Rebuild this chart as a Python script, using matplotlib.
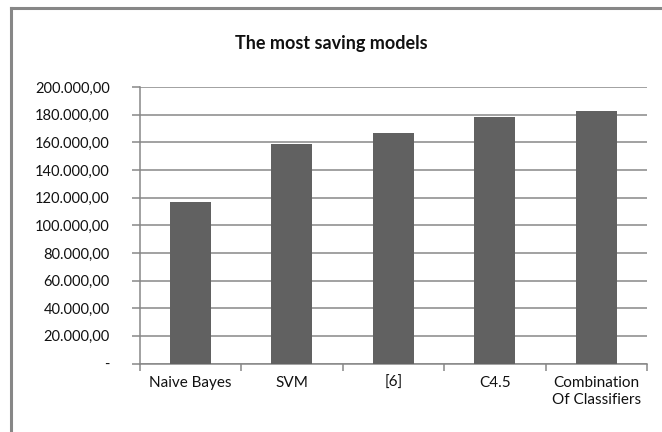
import matplotlib
matplotlib.use("Agg")
import matplotlib.pyplot as plt
from matplotlib.lines import Line2D
from matplotlib.ticker import FuncFormatter, FixedLocator

categories = ["Naive Bayes", "SVM", "[6]", "C4.5", "Combination\nOf Classifiers"]
savings = [117000, 159000, 166500, 178000, 182500]
title = "The most saving models"

plt.rcParams['font.family'] = ['Lato', 'DejaVu Sans']

W, H = 662, 432
fig = plt.figure(figsize=(W / 100, H / 100), dpi=100)
fig.patch.set_facecolor("white")

gray = "#878787"
ax = fig.add_axes([139.5 / W, 1 - 363.5 / H, (647 - 139.5) / W, (363.5 - 87) / H])

x = list(range(len(categories)))
ax.bar(x, savings, width=0.40, color="#616161", zorder=3)

ax.set_xlim(-0.5, len(categories) - 0.5)
ax.set_ylim(0, 200000)

yt = list(range(0, 200001, 20000))
ax.set_yticks(yt)

def fmt(v, pos):
    if v == 0:
        return "-"
    s = f"{int(v):,}".replace(",", ".")
    return s + ",00"

ax.yaxis.set_major_formatter(FuncFormatter(fmt))
ax.yaxis.grid(True, color=gray, linewidth=1.1, zorder=0)
ax.tick_params(axis="y", direction="out", length=5.5, width=1.1, color=gray,
               pad=16, labelsize=10.5, labelcolor="#111111")

ax.xaxis.set_major_locator(FixedLocator([i - 0.5 for i in range(len(categories) + 1)]))
ax.xaxis.set_minor_locator(FixedLocator(x))
ax.set_xticklabels([], minor=False)
ax.set_xticklabels(categories, minor=True, linespacing=1.3)
ax.tick_params(axis="x", which="major", direction="out", length=5, width=1.1, color=gray)
ax.tick_params(axis="x", which="minor", length=0, pad=9, labelsize=11, labelcolor="#111111")

for side in ["top", "right"]:
    ax.spines[side].set_visible(False)
for side in ["left", "bottom"]:
    ax.spines[side].set_color(gray)
    ax.spines[side].set_linewidth(1.1)

fig.text(0.5, 1 - 43 / H, title, ha="center", va="center", fontsize=13, fontweight="bold",
         color="#111111")

fig.add_artist(Line2D([11 / W, 11 / W], [1 - 8 / H, 0], transform=fig.transFigure,
                      color=gray, linewidth=2.2))
fig.add_artist(Line2D([11 / W, 1], [1 - 8 / H, 1 - 8 / H], transform=fig.transFigure,
                      color=gray, linewidth=2.2))

fig.savefig("out.png", dpi=100, facecolor="white")
